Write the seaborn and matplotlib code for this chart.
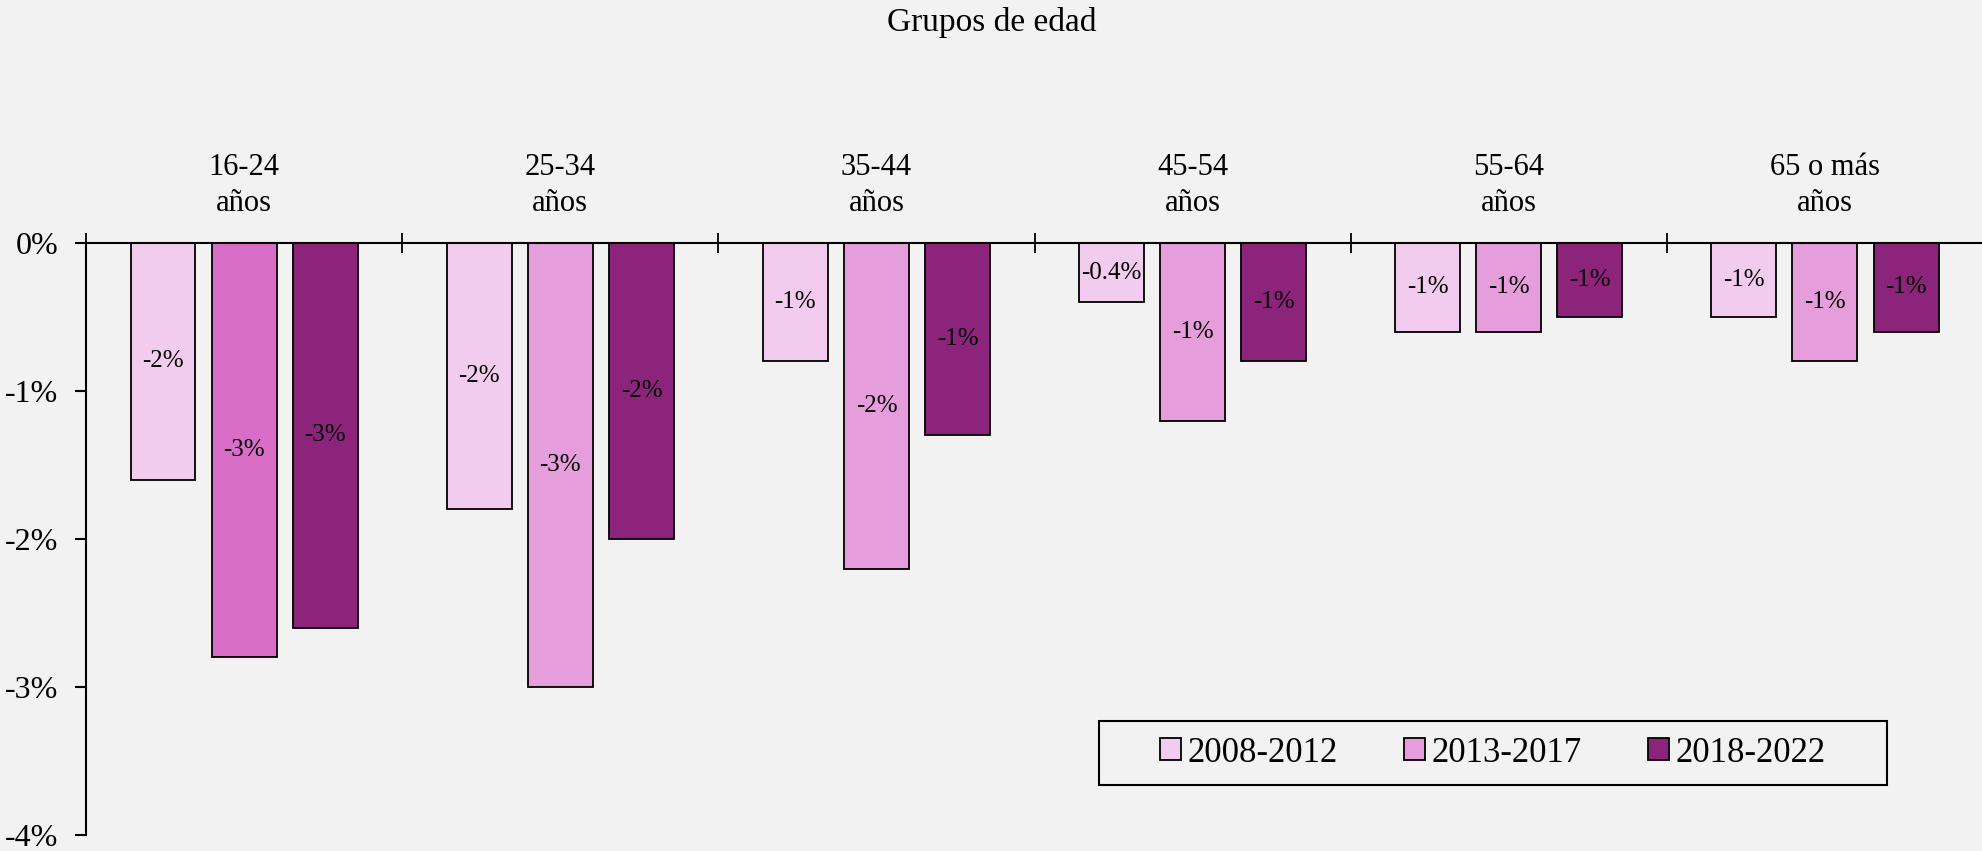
import numpy as np
import pandas as pd
import matplotlib
matplotlib.use('Agg')
import matplotlib.pyplot as plt
import seaborn as sns
from matplotlib.patches import Patch, Rectangle

# Data (percent change)
grupos = ['16-24\naños', '25-34\naños', '35-44\naños', '45-54\naños', '55-64\naños', '65 o más\naños']
periodos = ['2008-2012', '2013-2017', '2018-2022']
v_2008_2012 = [-1.6, -1.8, -0.8, -0.4, -0.6, -0.5]
v_2013_2017 = [-2.8, -3.0, -2.2, -1.2, -0.6, -0.8]
v_2018_2022 = [-2.6, -2.0, -1.3, -0.8, -0.5, -0.6]
etiquetas_2008_2012 = ['-2%', '-2%', '-1%', '-0.4%', '-1%', '-1%']
etiquetas_2013_2017 = ['-3%', '-3%', '-2%', '-1%', '-1%', '-1%']
etiquetas_2018_2022 = ['-3%', '-2%', '-1%', '-1%', '-1%', '-1%']
yticks = [0, -1, -2, -3, -4]
ytick_labels = ['0%', '-1%', '-2%', '-3%', '-4%']

colores = ['#F2CCEE', '#E59EDB', '#8B247A']
color_destacado = '#D86EC8'

df = pd.DataFrame({
    'grupo': grupos * 3,
    'periodo': [p for p in periodos for _ in grupos],
    'valor': v_2008_2012 + v_2013_2017 + v_2018_2022,
})

sns.set_style('white')
plt.rcParams['font.family'] = ['Liberation Serif', 'DejaVu Serif']
plt.rcParams['text.color'] = 'black'
plt.rcParams['xtick.color'] = 'black'
plt.rcParams['ytick.color'] = 'black'
plt.rcParams['xtick.labelcolor'] = 'black'
plt.rcParams['ytick.labelcolor'] = 'black'
bg = '#F2F2F2'

fig = plt.figure(figsize=(19.83, 8.51), dpi=100, facecolor=bg)
ax = fig.add_axes([0.0434, 0.0188, 0.9566, 0.6957], facecolor=bg)

sns.barplot(data=df, x='grupo', y='valor', hue='periodo', palette=colores,
            saturation=1, width=0.77, gap=0.2, edgecolor='black', linewidth=1.3,
            ax=ax, legend=False)

# highlighted bar in the first group
ax.containers[1].patches[0].set_facecolor(color_destacado)

for cont, labs in zip(ax.containers, [etiquetas_2008_2012, etiquetas_2013_2017, etiquetas_2018_2022]):
    ax.bar_label(cont, labels=labs, label_type='center', fontsize=18, color='black')

ax.set_ylim(-4, 0)
ax.set_xlim(-0.5, len(grupos) - 0.5)
ax.set_yticks(yticks, labels=ytick_labels)
ax.set_xticks(np.arange(-0.5, len(grupos)), labels=[])
ax.set_xticks(np.arange(len(grupos)), labels=grupos, minor=True)
ax.xaxis.set_ticks_position('top')
ax.tick_params(axis='x', which='major', direction='inout', length=14, width=1.3, color='black')
ax.tick_params(axis='x', which='minor', length=0, pad=18, labelsize=22, labeltop=True, labelbottom=False)
for t in ax.xaxis.get_minorticklabels():
    t.set_linespacing(1.3)
ax.tick_params(axis='y', left=True, direction='out', length=8, width=1.5, pad=12, labelsize=23)
ax.set_xlabel('')
ax.set_ylabel('')

for s in ['right', 'bottom']:
    ax.spines[s].set_visible(False)
for s in ['left', 'top']:
    ax.spines[s].set_linewidth(1.5)
    ax.spines[s].set_color('black')

fig.text(0.5, 1 - 22 / 851, 'Grupos de edad', ha='center', va='center', fontsize=24)

# legend box
ax.add_patch(Rectangle((0.534, 0.0845), 0.4154, 0.108, transform=ax.transAxes,
                       facecolor=bg, edgecolor='black', linewidth=1.5, zorder=5))
handles = [Patch(facecolor=c, edgecolor='black', linewidth=1.3) for c in colores]
leg = ax.legend(handles, periodos, ncol=3, loc='center', bbox_to_anchor=(0.7417, 0.1385),
                frameon=False, fontsize=25, handlelength=0.6, handleheight=0.6,
                handletextpad=0.2, columnspacing=1.9)
leg.set_zorder(6)

plt.savefig('out.png', dpi=100, facecolor=bg)
